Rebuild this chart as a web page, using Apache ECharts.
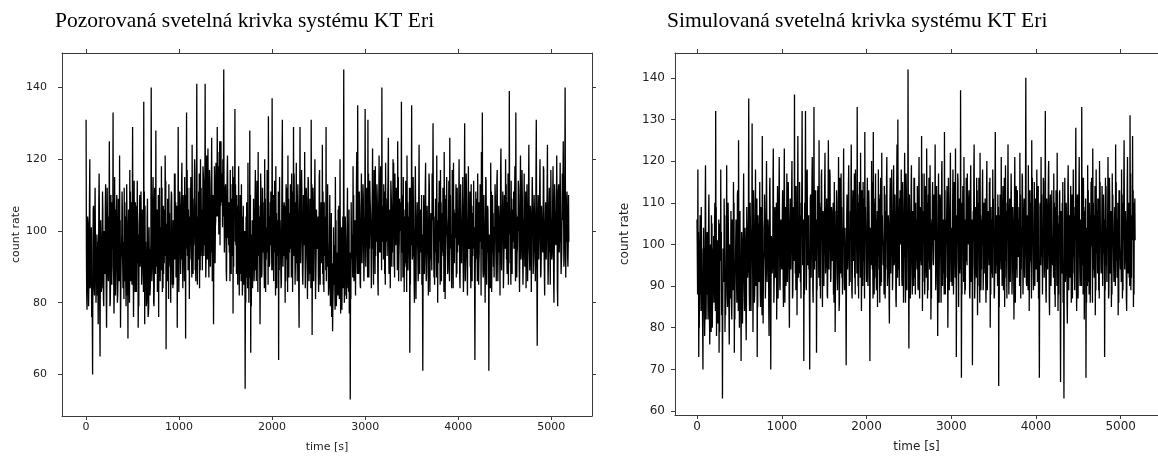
<!DOCTYPE html>
<html>
<head>
<meta charset="utf-8">
<script src="https://cdn.jsdelivr.net/npm/echarts@6/dist/echarts.min.js"></script>
<style>
html,body{margin:0;padding:0;background:#fff;overflow:hidden;}
#c{width:1158px;height:458px;}
</style>
</head>
<body>
<div id="c"></div>
<script>
// ---- data (count rate) ----
// three interleaved sample sets per 10 s block: main (t), mid (t+3.3 s), extra (t+6.7 s)
const STEP_S = 10;
const titleLeft = "Pozorovaná svetelná krivka systému KT Eri";
const titleRight = "Simulovaná svetelná krivka systému KT Eri";
const xTicks = [0, 1000, 2000, 3000, 4000, 5000];
const yTicksLeft = [60, 80, 100, 120, 140];
const yTicksRight = [60, 70, 80, 90, 100, 110, 120, 130, 140];

const observed = [
131,78,104,85,120,90,76,60,107,82,100,88,95,74,116,65,98,84,106,79,
92,113,73,102,86,125,80,97,108,133,77,99,88,110,82,104,121,73,94,106,
84,112,91,79,103,70,98,117,86,101,129,76,95,108,83,114,73,99,90,111,
88,105,136,74,97,80,109,77,92,84,140,86,115,79,101,128,90,104,76,112,
96,118,83,107,91,121,67,102,87,113,94,80,110,99,85,116,92,105,73,129,
90,108,97,119,84,103,115,70,133,93,106,81,112,98,124,88,101,117,86,141,
95,111,84,120,100,89,116,104,141,92,108,123,87,113,98,126,105,74,118,101,
112,129,104,118,96,125,108,120,145,99,113,86,121,102,94,117,88,109,77,115,
134,96,110,85,118,101,90,113,82,107,93,56,104,87,119,80,128,66,99,84,
109,91,117,86,102,122,95,74,112,88,106,97,120,83,101,114,132,90,108,96,
137,89,110,94,118,84,103,64,115,97,86,131,99,108,80,113,92,121,87,105,
95,116,83,129,101,90,119,86,107,73,129,98,111,85,104,122,93,109,81,114,
100,88,131,71,112,95,120,87,106,99,83,117,102,91,124,85,108,96,129,90,
97,82,110,88,76,72,101,85,115,79,94,106,83,120,91,78,104,145,86,99,
81,112,90,77,53,108,94,118,86,103,99,122,135,88,107,84,116,97,110,92,
134,95,109,131,87,114,101,92,123,85,106,118,97,110,82,121,103,94,140,99,
113,88,119,102,93,126,98,84,111,105,120,90,116,96,107,125,86,109,100,136,
94,115,83,106,99,121,89,104,66,112,135,92,101,80,118,95,108,86,124,97,
103,85,61,110,96,119,88,107,82,113,99,92,116,130,87,104,94,121,80,108,
98,117,86,105,93,122,81,110,100,89,114,126,95,84,108,119,91,103,87,112,
96,120,84,107,99,115,88,130,93,109,82,118,101,90,113,86,104,97,64,111,
92,116,85,108,99,122,133,87,103,80,114,95,106,61,98,119,83,110,90,101,
109,86,117,94,104,82,123,97,111,89,102,120,92,108,85,139,99,114,88,106,
95,118,133,87,104,112,83,121,96,109,91,116,100,84,113,93,124,89,107,98,
115,91,106,86,131,68,110,97,120,88,103,94,117,82,108,99,124,90,112,85,
104,93,118,80,109,96,121,79,113,99,107,88,116,125,92,140,101,111,90,97
];
const observedMid = [
95,88,101,92,84,99,80,94,87,103,91,82,97,86,104,90,83,96,89,100,
88,97,85,104,93,99,86,102,95,90,84,106,92,98,87,101,94,83,99,91,
97,86,104,93,82,100,89,96,108,85,98,92,103,87,95,105,84,97,90,102,
93,99,85,107,90,82,88,79,95,84,98,91,104,86,100,93,106,89,97,95,
101,92,105,88,99,110,94,86,103,97,90,107,95,84,101,93,108,89,98,104,
99,106,92,101,110,95,88,104,97,112,91,100,107,94,103,98,111,89,105,96,
104,97,110,93,106,101,114,96,103,108,92,111,99,105,94,109,101,97,112,103,
118,108,114,106,121,110,116,104,109,98,106,101,110,96,104,99,107,95,102,108,
97,105,92,101,96,88,99,93,86,97,91,84,95,89,98,92,87,96,90,99,
95,102,89,107,98,93,104,90,100,96,108,92,101,97,94,105,99,91,103,98,
102,95,99,106,91,100,94,103,97,89,104,98,93,101,107,95,99,92,105,97,
104,96,101,93,108,99,91,105,97,102,94,106,100,92,103,98,109,95,101,97,
96,103,99,92,106,98,101,94,97,104,91,99,95,102,88,97,93,100,86,95,
91,85,94,82,88,80,92,86,97,83,89,93,81,95,87,90,84,96,82,91,
88,94,83,90,86,97,92,99,89,95,101,93,104,97,91,100,95,103,98,102,
103,98,106,94,101,109,97,104,95,100,107,93,102,99,105,96,110,101,97,104,
100,106,97,103,110,95,101,98,107,94,103,99,108,96,102,105,93,100,106,98,
99,95,102,91,97,104,93,100,88,96,101,94,98,92,103,95,99,90,97,101,
94,99,90,97,102,93,100,95,104,91,98,96,103,108,94,100,97,92,99,105,
97,103,99,94,106,100,92,104,98,101,95,107,99,93,102,96,105,98,101,94,
99,104,95,101,97,92,103,98,106,94,100,96,102,91,99,105,95,101,88,97,
94,100,91,97,103,95,99,88,96,92,101,94,98,90,97,102,93,99,95,100,
98,103,96,101,94,99,106,97,102,95,100,104,93,99,97,107,101,96,103,99,
101,97,105,94,100,103,96,108,99,93,102,98,104,95,101,97,106,94,100,98,
103,96,100,94,108,90,101,97,105,93,99,102,95,100,97,104,98,101,94,99,
100,97,104,93,101,98,106,95,102,99,97,94,103,108,99,110,97,103,96,99
];
const observedExtra = [
82,104,79,110,86,101,75,106,84,112,80,99,87,108,78,103,85,111,81,100,
107,83,112,88,104,79,110,85,101,87,115,82,106,80,109,86,103,92,111,84,
81,108,85,113,92,106,80,111,86,104,89,114,83,107,91,102,79,110,96,85,
106,83,111,87,79,104,76,101,82,98,86,109,80,112,88,105,83,110,91,86,
89,112,84,106,93,114,88,109,81,105,97,111,85,103,92,116,87,107,94,83,
111,88,114,93,106,86,110,95,117,89,104,92,115,87,109,96,120,91,108,85,
92,116,89,112,98,118,93,109,87,121,100,94,117,90,113,86,110,104,91,119,
104,122,99,125,107,115,101,119,94,112,89,116,98,108,86,113,93,118,90,104,
113,88,107,96,82,110,86,104,92,85,100,80,108,84,97,88,110,79,103,93,
86,110,95,114,83,107,90,116,87,112,94,84,109,92,117,85,104,98,111,89,
110,86,114,82,105,93,111,89,103,84,118,90,107,95,86,112,83,109,94,113,
87,111,94,116,85,105,98,113,82,109,91,117,88,110,96,84,112,90,115,86,
109,84,113,92,86,110,81,106,95,88,115,85,108,91,111,83,104,89,107,113,
82,100,79,105,91,84,96,78,103,87,82,107,92,77,101,86,98,80,104,88,
102,84,106,94,81,99,87,110,93,82,114,88,100,111,85,107,91,113,86,104,
90,112,87,116,95,106,84,111,99,117,88,104,113,86,109,94,118,89,107,92,
111,85,109,93,116,88,106,114,90,103,119,87,101,112,89,115,97,108,86,110,
87,104,90,114,83,108,96,112,85,101,92,115,86,109,81,103,93,111,88,106,
110,84,100,88,113,86,107,93,116,83,105,89,111,95,85,109,87,103,91,114,
85,108,94,112,83,109,97,115,88,104,86,110,92,117,84,106,99,113,88,101,
108,87,113,91,104,83,110,86,116,89,105,95,111,84,107,93,114,85,97,109,
86,108,94,113,82,104,89,110,93,115,85,107,91,99,84,111,96,105,87,113,
92,114,86,107,97,117,89,105,84,110,95,113,88,116,91,102,85,109,97,111,
108,86,103,95,114,89,109,92,117,85,104,90,111,97,86,112,94,107,83,115,
88,110,94,116,85,104,92,113,87,107,95,118,89,103,92,113,85,108,99,117,
92,110,86,113,97,107,84,111,94,119,88,105,112,90,116,87,108,93,110,102
];

const simulated = [
106,118,73,100,88,109,84,70,97,78,119,91,103,82,112,76,95,107,80,99,
86,110,132,78,101,92,74,105,118,83,63,97,111,79,89,119,85,104,76,96,
108,82,99,115,74,93,106,86,113,125,80,97,72,103,90,117,84,101,77,109,
92,135,84,104,96,129,79,110,88,118,99,73,107,91,115,85,102,126,81,98,
112,87,120,95,104,78,116,70,101,93,123,86,109,97,82,114,100,121,89,106,
94,113,85,123,102,90,117,96,108,80,111,99,120,88,105,136,93,114,83,126,
101,115,91,107,132,97,72,110,132,89,118,103,94,70,112,99,121,86,133,105,
96,74,113,102,125,90,109,118,85,106,99,122,93,111,87,125,101,116,92,108,
103,88,115,79,98,110,94,121,86,106,117,92,104,123,89,100,71,112,97,119,
95,108,124,87,113,101,92,118,105,133,90,110,98,122,84,107,115,96,127,103,
91,116,100,109,72,104,120,94,127,88,111,99,106,85,118,97,112,90,122,103,
98,114,87,108,121,93,105,81,116,100,110,89,119,96,107,85,124,130,94,111,
102,118,90,109,97,122,86,113,100,142,75,107,95,119,88,104,116,92,110,99,
114,89,121,103,96,126,84,108,117,93,105,123,87,112,99,119,82,106,115,95,
109,124,91,103,78,117,98,111,86,120,101,93,127,88,106,114,80,110,97,122,
104,90,118,96,112,123,73,107,115,99,93,137,68,110,102,121,88,106,96,117,
101,113,87,119,95,71,108,124,92,105,116,83,110,98,122,89,106,118,94,103,
111,86,120,97,106,115,80,109,93,118,101,88,127,104,95,112,66,107,99,121,
90,114,103,85,119,96,108,124,88,111,99,117,92,106,82,121,101,94,113,97,
109,122,87,104,116,93,111,98,140,90,107,119,84,113,96,125,102,89,115,100,
94,118,106,87,68,110,121,97,103,115,92,132,86,108,99,120,83,112,95,106,
101,117,88,109,96,122,84,105,113,67,98,110,86,63,116,93,107,81,119,100,
92,114,103,87,118,97,109,128,84,112,99,121,90,106,133,95,116,82,108,68,
104,119,91,110,86,115,100,123,94,107,83,118,98,111,89,120,102,93,114,97,
108,73,116,95,104,121,88,112,99,85,117,102,91,109,124,96,106,83,113,100,
94,118,87,110,125,97,105,84,121,100,92,131,89,107,126,85,110,101
];
const simulatedMid = [
97,92,84,101,90,96,86,93,99,84,102,88,97,91,100,85,94,98,87,95,
93,99,104,88,97,94,86,100,96,90,83,95,101,88,93,99,91,97,86,94,
99,90,97,103,87,95,100,92,98,104,91,96,88,99,94,101,90,97,86,100,
95,104,91,99,96,102,89,100,94,101,97,88,99,93,103,95,98,106,92,97,
102,96,107,99,101,93,105,90,98,96,104,95,100,98,92,103,99,106,96,101,
99,104,95,107,100,97,103,99,101,94,102,98,106,96,100,108,98,103,95,104,
101,105,97,102,108,99,93,104,107,96,103,100,98,92,102,99,106,95,104,101,
99,92,103,100,106,97,101,104,96,102,99,105,97,101,95,106,100,103,98,101,
100,95,103,90,98,102,97,104,94,100,103,97,101,106,96,99,91,102,98,104,
98,101,106,95,103,99,97,104,100,108,96,102,99,105,94,100,103,98,107,101,
96,103,100,101,92,100,105,98,106,95,102,99,101,96,104,98,102,95,105,100,
99,103,96,101,105,97,100,94,104,99,101,96,105,98,101,95,106,108,98,102,
100,104,96,101,98,106,94,102,99,110,92,101,97,104,95,100,103,97,101,99,
103,96,105,100,98,106,94,101,104,97,100,106,95,102,99,104,93,100,103,98,
101,106,97,100,93,104,99,102,95,105,100,97,107,95,100,103,92,101,98,104,
100,96,104,98,102,106,92,100,103,99,97,110,91,101,100,105,95,100,98,103,
100,103,96,105,98,91,101,106,97,100,104,94,101,99,105,96,100,104,97,101,
102,95,105,99,101,104,93,101,97,104,100,95,108,100,98,102,89,100,99,105,
96,103,100,94,105,98,101,106,95,102,99,104,97,100,93,105,100,98,103,99,
101,105,96,100,104,98,102,99,110,96,100,104,94,102,98,106,100,96,103,100,
98,104,100,95,90,101,105,99,100,103,97,108,95,101,99,104,94,102,98,100,
99,104,95,101,98,105,93,100,103,88,99,101,94,90,104,97,100,92,105,99,
97,102,100,94,104,98,101,107,95,102,99,105,96,100,108,98,103,94,101,91,
100,104,97,101,95,103,99,106,97,100,94,104,99,101,96,105,100,98,103,99,
101,92,104,98,100,105,96,102,99,94,104,100,97,101,106,98,100,94,102,100,
98,104,95,101,106,99,100,94,105,100,97,109,96,101,105,95,101,100
];
const simulatedExtra = [
88,103,80,107,84,99,78,104,86,110,82,101,89,107,83,100,79,105,87,102,
104,84,109,90,81,106,79,96,103,86,99,91,107,83,102,88,110,84,100,87,
86,106,89,110,82,101,91,112,84,97,108,86,103,81,107,89,104,83,109,92,
107,88,110,84,104,93,113,86,101,90,111,85,105,97,88,109,83,104,96,112,
87,111,91,106,84,113,89,102,93,115,86,108,92,110,104,87,112,90,105,95,
108,90,112,86,109,99,91,115,88,106,94,113,87,109,96,114,89,105,110,92,
93,110,87,115,95,106,88,112,90,117,95,107,85,111,92,116,89,108,94,113,
106,89,114,92,110,87,116,95,108,90,115,93,107,88,112,94,118,91,109,96,
110,86,108,92,113,89,106,84,116,93,109,88,112,91,104,86,107,94,114,90,
91,114,89,109,96,117,88,108,93,112,87,115,92,106,113,90,111,87,109,94,
109,90,113,88,104,95,115,87,110,92,117,89,108,94,111,86,116,91,107,95,
88,112,94,116,90,107,86,111,93,118,89,108,95,112,87,115,92,109,90,113,
108,92,115,86,110,95,117,89,104,91,112,87,114,93,108,90,116,88,106,94,
90,113,87,109,95,117,91,106,88,114,92,110,89,116,94,105,87,111,96,112,
107,89,114,93,110,86,112,95,117,90,106,88,113,92,108,95,116,89,110,91,
93,110,88,115,92,107,96,117,85,111,94,109,88,114,91,106,89,116,95,108,
111,88,114,91,106,95,118,87,109,92,113,90,116,86,107,94,112,89,110,93,
91,113,89,108,95,116,88,106,92,111,87,115,93,107,90,109,85,112,94,110,
108,89,116,92,110,87,113,94,107,91,117,88,109,95,112,86,114,92,106,97,
90,112,94,117,88,108,92,115,91,106,89,113,96,110,87,116,93,108,90,111,
107,91,114,86,109,95,112,88,116,92,106,89,111,94,117,87,108,90,113,95,
92,110,85,113,90,107,88,112,84,108,93,115,87,105,91,110,86,114,89,107,
109,86,112,93,107,89,115,91,110,87,113,94,106,90,116,88,109,95,111,86,
90,113,88,107,95,116,86,110,92,114,89,108,93,111,87,115,94,106,90,112,
106,89,114,91,109,87,116,93,108,88,112,95,106,90,115,92,110,86,113,94,
91,112,89,116,94,108,87,114,93,110,90,117,92,106,113,88,111,97
];

// ---- build [time, value] pairs, interleaving the three sample sets ----
function toPairs(main, mid, extra) {
  const out = [];
  main.forEach((v, i) => {
    out.push([i * STEP_S, v]);
    if (i < main.length - 1) {
      if (mid[i] != null) out.push([i * STEP_S + STEP_S / 3, mid[i]]);
      if (extra[i] != null) out.push([i * STEP_S + 2 * STEP_S / 3, extra[i]]);
    }
  });
  return out;
}

const AX = '#3a3a3a';
const LBL = '#222';
const plain = v => String(v);
function xAxes(grid, min, max, fs) {
  return [
    { gridIndex: grid, type: 'value', position: 'bottom', min: min, max: max,
      axisLine: { show: true, onZero: false, lineStyle: { color: AX, width: 1 } },
      axisTick: { show: true, length: 4, customValues: xTicks, lineStyle: { color: AX } },
      axisLabel: { show: true, customValues: xTicks, formatter: plain, margin: 6, color: LBL, fontFamily: 'DejaVu Sans', fontSize: fs },
      splitLine: { show: false },
      name: 'time [s]', nameLocation: 'middle', nameGap: 26,
      nameTextStyle: { color: LBL, fontFamily: 'DejaVu Sans', fontSize: fs } },
    { gridIndex: grid, type: 'value', position: 'top', min: min, max: max,
      axisLine: { show: true, onZero: false, lineStyle: { color: AX, width: 1 } },
      axisTick: { show: true, length: 4, customValues: xTicks, lineStyle: { color: AX } },
      axisLabel: { show: false }, splitLine: { show: false } }
  ];
}
function yAxes(grid, min, max, ticks, fs, margin, nameGap) {
  return [
    { gridIndex: grid, type: 'value', position: 'left', min: min, max: max,
      axisLine: { show: true, onZero: false, lineStyle: { color: AX, width: 1 } },
      axisTick: { show: true, length: 4, customValues: ticks, lineStyle: { color: AX } },
      axisLabel: { show: true, customValues: ticks, formatter: plain, margin: margin, color: LBL, fontFamily: 'DejaVu Sans', fontSize: fs },
      splitLine: { show: false },
      name: 'count rate', nameLocation: 'middle', nameGap: nameGap,
      nameTextStyle: { color: LBL, fontFamily: 'DejaVu Sans', fontSize: fs } },
    { gridIndex: grid, type: 'value', position: 'right', min: min, max: max,
      axisLine: { show: true, onZero: false, lineStyle: { color: AX, width: 1 } },
      axisTick: { show: true, length: 4, customValues: ticks, lineStyle: { color: AX } },
      axisLabel: { show: false }, splitLine: { show: false } }
  ];
}

const chart = echarts.init(document.getElementById('c'), null, { renderer: 'canvas' });
const lineStyle = { color: '#000', width: 1.3, opacity: 1, join: 'miter', cap: 'butt' };
const titleStyle = { fontFamily: 'Liberation Serif', fontWeight: 'normal', fontSize: 21.5, color: '#000' };
chart.setOption({
  animation: false,
  backgroundColor: '#fff',
  title: [
    { text: titleLeft, left: 55, top: 10, padding: 0, textStyle: titleStyle },
    { text: titleRight, left: 667, top: 10, padding: 0, textStyle: titleStyle }
  ],
  grid: [
    { left: 62, top: 53, width: 530, height: 363 },
    { left: 675, top: 53, width: 489, height: 363 }
  ],
  xAxis: [].concat(xAxes(0, -259, 5439, 11), xAxes(1, -260, 5440, 12)),
  yAxis: [].concat(yAxes(0, 48.4, 149.6, yTicksLeft, 11, 15, 38), yAxes(1, 59.05, 145.95, yTicksRight, 12, 10, 44)),
  series: [
    { type: 'line', xAxisIndex: 0, yAxisIndex: 0, data: toPairs(observed, observedMid, observedExtra),
      showSymbol: false, symbol: 'none', lineStyle: lineStyle, silent: true, sampling: null },
    { type: 'line', xAxisIndex: 2, yAxisIndex: 2, data: toPairs(simulated, simulatedMid, simulatedExtra),
      showSymbol: false, symbol: 'none', lineStyle: lineStyle, silent: true, sampling: null }
  ]
});
</script>
</body>
</html>
